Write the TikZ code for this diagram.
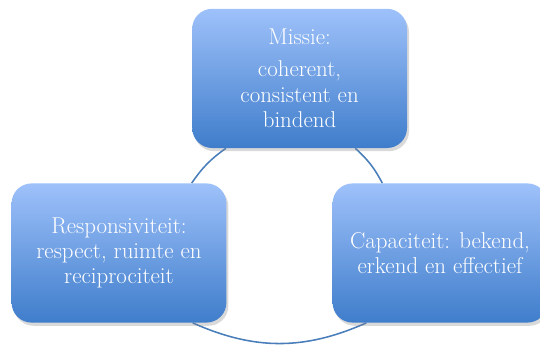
\documentclass[tikz,border=0pt]{standalone}
\usetikzlibrary{shadows,backgrounds}
\definecolor{boxtop}{RGB}{158,193,250}
\definecolor{boxbottom}{RGB}{63,125,203}
\definecolor{ringblue}{RGB}{74,126,187}
\begin{document}
\begin{tikzpicture}[
	every node/.style={font=\fontsize{16.3}{18}\selectfont, text=white, align=center},
	kader/.style={rounded corners=0.5cm, minimum width=5.37cm, minimum height=3.48cm,
		top color=boxtop, bottom color=boxbottom,
		drop shadow={shadow xshift=0.5mm, shadow yshift=-0.8mm, opacity=0.3}},
	ring/.style={draw=ringblue, line width=1.1pt}]
	\useasboundingbox (0,0) rectangle (13.5,8.65);
	\node (M) [kader] at (7.49,6.69) {Missie:\\[5pt] coherent,\\ consistent en\\ bindend};
	\node (R) [kader] at (2.975,2.325) {Responsiviteit:\\ respect, ruimte en\\ reciprociteit};
	\node (C) [kader] at (11,2.325) {Capaciteit: bekend,\\ erkend en effectief};
	\begin{scope}[on background layer]
		\draw[ring] ([xshift=0.85cm]M.south west) to [bend right=10] ([xshift=-0.875cm]R.north east);
		\draw[ring] ([xshift=-1.3cm]M.south east) to [bend left=10] ([xshift=1.25cm]C.north west);
		\draw[ring] ([xshift=-0.85cm]R.south east) to [bend right=24] ([xshift=0.85cm]C.south west);
	\end{scope}
\end{tikzpicture}
\end{document}
